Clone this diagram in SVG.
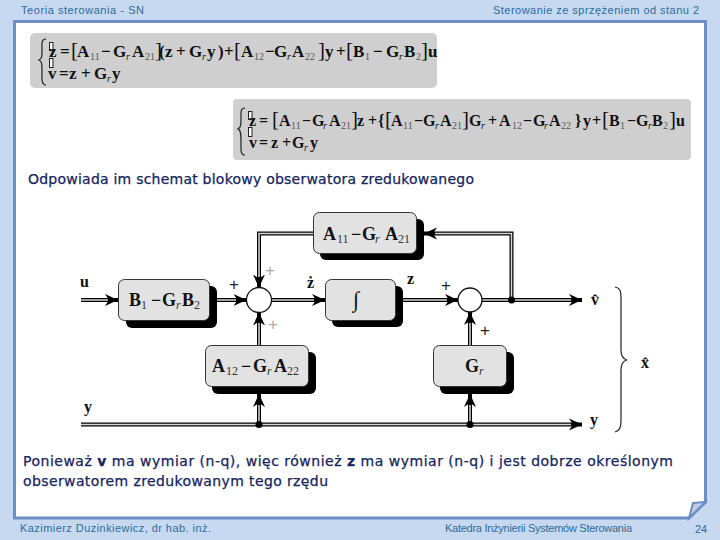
<svg xmlns="http://www.w3.org/2000/svg" width="720" height="540" viewBox="0 0 720 540">
<style>
.hd{font:11px "Liberation Sans",Arial,sans-serif;fill:#2c6c9c}
.body{font:14px "DejaVu Sans",Verdana,sans-serif;fill:#16245c;stroke:#16245c;stroke-width:.25}
.eq{font:bold 17px "Liberation Serif","Times New Roman",serif;fill:#111}
.eq2{font:bold 16px "Liberation Serif","Times New Roman",serif;fill:#111}
.s{font-size:10px;font-weight:normal;fill:#555}
.i{font-size:10px;font-style:italic;font-weight:normal}
.k{font-size:21px;font-weight:normal}
.m{font:bold 18px "Liberation Serif","Times New Roman",serif;fill:#111}
.sub{font-size:12px;font-weight:normal;fill:#333}
.r{font-size:12px;font-style:italic;font-weight:normal;fill:#333}
.lb{font:bold 16px "Liberation Serif","Times New Roman",serif;fill:#111}
.pl{font:17px "Liberation Sans",Arial,sans-serif;fill:#222;text-anchor:middle}
.pale{fill:#aaa}
.box{fill:#e2e2e2;stroke:#333;stroke-width:1}
.sh{fill:#000}
.sum{fill:#fff;stroke:#111;stroke-width:1.3}
.o{fill:none;stroke:#000;stroke-width:4}
.n{fill:none;stroke:#d8d8d8;stroke-width:1.5}
.ph{fill:#fff;stroke:#222;stroke-width:1}
.br{fill:none;stroke:#222;stroke-width:1.2}
.gray{fill:#cfcfcf}
</style>
<defs>
<marker id="a" markerUnits="userSpaceOnUse" markerWidth="16" markerHeight="16" refX="13" refY="8" orient="auto">
<path d="M0 2L13 8L0 14L4 8Z" fill="#000"/>
</marker>
</defs>
<rect width="720" height="540" fill="#c6d9f1"/>
<path d="M14.500 21.500H705.500V502L689 518H14.500Z" fill="#fff" stroke="#6a8fc4" stroke-width="3"/>
<path d="M689 518L693 503L705.500 502Z" fill="#c3cbe0" stroke="#6a8fc4" stroke-width="2"/>
<text class="hd" x="21" y="14" textLength="123">Teoria sterowania - SN</text>
<text class="hd" x="493" y="14" textLength="206">Sterowanie ze sprzężeniem od stanu 2</text>
<text class="hd" x="20" y="532" textLength="191">Kazimierz Duzinkiewicz, dr hab. inż.</text>
<text class="hd" x="445" y="532" textLength="187">Katedra Inżynierii Systemów Sterowania</text>
<text class="hd" x="695" y="533">24</text>

<rect class="gray" x="30" y="33" width="407" height="55" rx="5"/>
<path class="br" d="M46 39C41 39 42 44 42 50C42 56 42 59 39 60C42 61 42 65 42 71C42 78 41 85 46 85"/>
<rect class="ph" x="49.500" y="42.500" width="3.500" height="8"/>
<rect class="ph" x="49.500" y="58.500" width="3.500" height="9"/>
<text class="eq" y="57"><tspan x="49">z</tspan><tspan x="60">=</tspan><tspan x="71" class="k">[</tspan><tspan x="77">A</tspan><tspan x="90" class="s" dy="3">11</tspan><tspan x="101" dy="-3">−</tspan><tspan x="113">G</tspan><tspan x="126" class="i" dy="3">r</tspan><tspan x="132" dy="-3">A</tspan><tspan x="145" class="s" dy="3">21</tspan><tspan x="155" class="k" dy="-3">]</tspan><tspan x="159">(</tspan><tspan x="165">z</tspan><tspan x="176">+</tspan><tspan x="189">G</tspan><tspan x="202" class="i" dy="3">r</tspan><tspan x="207" dy="-3">y</tspan><tspan x="218">)</tspan><tspan x="224">+</tspan><tspan x="234" class="k">[</tspan><tspan x="241">A</tspan><tspan x="254" class="s" dy="3">12</tspan><tspan x="265" dy="-3">−</tspan><tspan x="274">G</tspan><tspan x="287" class="i" dy="3">r</tspan><tspan x="292" dy="-3">A</tspan><tspan x="305" class="s" dy="3">22</tspan><tspan x="318" class="k" dy="-3">]</tspan><tspan x="325">y</tspan><tspan x="336">+</tspan><tspan x="346" class="k">[</tspan><tspan x="353">B</tspan><tspan x="365" class="s" dy="3">1</tspan><tspan x="373" dy="-3">−</tspan><tspan x="386">G</tspan><tspan x="399" class="i" dy="3">r</tspan><tspan x="404" dy="-3">B</tspan><tspan x="416" class="s" dy="3">2</tspan><tspan x="421" class="k" dy="-3">]</tspan><tspan x="428">u</tspan></text>
<text class="eq" y="79"><tspan x="48">v</tspan><tspan x="59">=</tspan><tspan x="69">z</tspan><tspan x="81">+</tspan><tspan x="94">G</tspan><tspan x="107" class="i" dy="3">r</tspan><tspan x="112" dy="-3">y</tspan></text>

<rect class="gray" x="233" y="99" width="458" height="61" rx="4"/>
<path class="br" d="M245 108C240 108 241 113 241 118C241 124 241 128 238 129C241 130 241 135 241 141C241 149 240 155 245 155"/>
<rect class="ph" x="248.500" y="111.500" width="3.500" height="8"/>
<rect class="ph" x="248.500" y="127.500" width="3.500" height="9"/>
<text class="eq2" y="126"><tspan x="249">z</tspan><tspan x="259">=</tspan><tspan x="272" class="k">[</tspan><tspan x="279">A</tspan><tspan x="291" class="s" dy="3">11</tspan><tspan x="302" dy="-3">−</tspan><tspan x="312">G</tspan><tspan x="323" class="i" dy="3">r</tspan><tspan x="329" dy="-3">A</tspan><tspan x="341" class="s" dy="3">21</tspan><tspan x="351" class="k" dy="-3">]</tspan><tspan x="357">z</tspan><tspan x="368">+</tspan><tspan x="378">{</tspan><tspan x="385" class="k">[</tspan><tspan x="391">A</tspan><tspan x="403" class="s" dy="3">11</tspan><tspan x="414" dy="-3">−</tspan><tspan x="423">G</tspan><tspan x="435" class="i" dy="3">r</tspan><tspan x="440" dy="-3">A</tspan><tspan x="452" class="s" dy="3">21</tspan><tspan x="462" class="k" dy="-3">]</tspan><tspan x="469">G</tspan><tspan x="481" class="i" dy="3">r</tspan><tspan x="488" dy="-3">+</tspan><tspan x="499">A</tspan><tspan x="512" class="s" dy="3">12</tspan><tspan x="523" dy="-3">−</tspan><tspan x="533">G</tspan><tspan x="544" class="i" dy="3">r</tspan><tspan x="549" dy="-3">A</tspan><tspan x="561" class="s" dy="3">22</tspan><tspan x="575" dy="-3">}</tspan><tspan x="583">y</tspan><tspan x="592">+</tspan><tspan x="602" class="k">[</tspan><tspan x="609">B</tspan><tspan x="620" class="s" dy="3">1</tspan><tspan x="627" dy="-3">−</tspan><tspan x="636">G</tspan><tspan x="648" class="i" dy="3">r</tspan><tspan x="652" dy="-3">B</tspan><tspan x="663" class="s" dy="3">2</tspan><tspan x="669" class="k" dy="-3">]</tspan><tspan x="676">u</tspan></text>
<text class="eq2" y="148"><tspan x="249">v</tspan><tspan x="259">=</tspan><tspan x="271">z</tspan><tspan x="282">+</tspan><tspan x="292">G</tspan><tspan x="304" class="i" dy="3">r</tspan><tspan x="310" dy="-3">y</tspan></text>

<text class="body" x="28" y="184" textLength="446">Odpowiada im schemat blokowy obserwatora zredukowanego</text>
<text class="body" x="23" y="466" textLength="650">Ponieważ <tspan font-weight="bold">v</tspan> ma wymiar (n-q), więc również <tspan font-weight="bold">z</tspan> ma wymiar (n-q) i jest dobrze określonym</text>
<text class="body" x="23" y="486" textLength="305">obserwatorem zredukowanym tego rzędu</text>

<g id="connectors">
<path class="o" marker-end="url(#a)" d="M81 300H118"/><path class="n" d="M81 300H108"/>
<path class="o" marker-end="url(#a)" d="M217 300H246.500"/><path class="n" d="M217 300H236"/>
<path class="o" marker-end="url(#a)" d="M271 300H325"/><path class="n" d="M271 300H314"/>
<path class="o" marker-end="url(#a)" d="M403 300H458"/><path class="n" d="M403 300H447"/>
<path class="o" marker-end="url(#a)" d="M482 300H582"/><path class="n" d="M482 300H571"/>
<path class="o" marker-end="url(#a)" d="M511.500 300V233.500H424"/><path class="n" d="M511.500 300V233.500H435"/>
<path class="o" marker-end="url(#a)" d="M313 233.500H259V287.500"/><path class="n" d="M313 233.500H259V277"/>
<path class="o" marker-end="url(#a)" d="M259 345V312.500"/><path class="n" d="M259 345V323"/>
<path class="o" marker-end="url(#a)" d="M470 345V312"/><path class="n" d="M470 345V323"/>
<path class="o" marker-end="url(#a)" d="M81 424.500H582"/><path class="n" d="M81 424.500H571"/>
<path class="o" marker-end="url(#a)" d="M259 424.500V394"/><path class="n" d="M259 424.500V405"/>
<path class="o" marker-end="url(#a)" d="M470 424.500V394"/><path class="n" d="M470 424.500V405"/>
<circle cx="511.500" cy="300" r="3.500"/><circle cx="259" cy="424.500" r="3.500"/><circle cx="470" cy="424.500" r="3.500"/>
</g>

<g id="b1">
<rect class="sh" x="126" y="286" width="91" height="42" rx="6"/><rect class="box" x="118.500" y="279.500" width="91" height="41" rx="6"/>
<text class="m" y="306"><tspan x="129">B</tspan><tspan x="141" class="sub" dy="3">1</tspan><tspan x="151" dy="-3">−</tspan><tspan x="162">G</tspan><tspan x="176" class="r" dy="3">r</tspan><tspan x="182" dy="-3">B</tspan><tspan x="194" class="sub" dy="3">2</tspan></text>
</g>
<g id="a11">
<rect class="sh" x="320" y="219" width="104" height="41" rx="6"/><rect class="box" x="313.500" y="212.500" width="103" height="41" rx="6"/>
<text class="m" y="240"><tspan x="323">A</tspan><tspan x="337" class="sub" dy="3">11</tspan><tspan x="351" dy="-3">−</tspan><tspan x="362">G</tspan><tspan x="375" class="r" dy="3">r</tspan><tspan x="385" dy="-3">A</tspan><tspan x="398" class="sub" dy="3">21</tspan></text>
</g>
<g id="integrator">
<rect class="sh" x="332" y="286" width="71" height="41" rx="6"/><rect class="box" x="325.500" y="279.500" width="70" height="41" rx="6"/>
<text x="353" y="307" style="font:22px 'Liberation Serif',serif;fill:#111">∫</text>
</g>
<g id="a12">
<rect class="sh" x="212" y="352" width="104" height="42" rx="6"/><rect class="box" x="205.500" y="345.500" width="103" height="41" rx="6"/>
<text class="m" y="372"><tspan x="212">A</tspan><tspan x="226" class="sub" dy="3">12</tspan><tspan x="241" dy="-3">−</tspan><tspan x="253">G</tspan><tspan x="267" class="r" dy="3">r</tspan><tspan x="274" dy="-3">A</tspan><tspan x="287" class="sub" dy="3">22</tspan></text>
</g>
<g id="gr">
<rect class="sh" x="440" y="352" width="74" height="42" rx="6"/><rect class="box" x="433.500" y="345.500" width="73" height="41" rx="6"/>
<text class="m" y="372"><tspan x="465">G</tspan><tspan x="479" class="r" dy="3">r</tspan></text>
</g>
<g id="sum1"><circle class="sum" cx="259" cy="300" r="12.500"/></g>
<g id="sum2"><circle class="sum" cx="470" cy="300" r="12"/></g>

<text class="lb" x="80" y="287">u</text>
<text class="lb" x="84" y="412">y</text>
<text class="lb" x="307" y="288">ż</text>
<text class="lb" x="407" y="284">z</text>
<text class="lb" x="591" y="305">v̂</text>
<text class="lb" x="641" y="368">x̂</text>
<text class="lb" x="590" y="425">y</text>
<text class="pl" x="234" y="290">+</text>
<text class="pl pale" x="270" y="276">+</text>
<text class="pl pale" x="273" y="330">+</text>
<text class="pl" x="446" y="291">+</text>
<text class="pl" x="485" y="336">+</text>
<path class="br" d="M615 287C620 288 621 291 621 298V350C621 356 623 359 627 360C623 361 621 364 621 370V420C621 427 620 431 615 432"/>
</svg>
